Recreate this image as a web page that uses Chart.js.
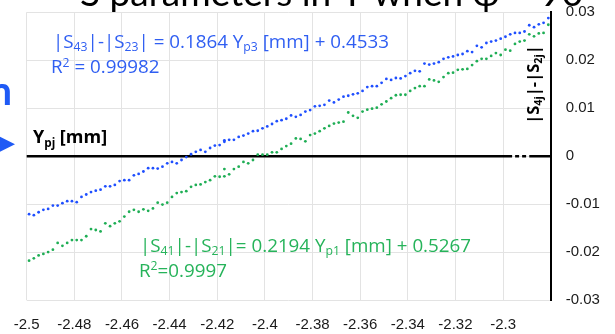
<!DOCTYPE html>
<html>
<head>
<meta charset="utf-8">
<script src="https://cdn.jsdelivr.net/npm/chart.js@4/dist/chart.umd.min.js"></script>
<style>
  html, body { margin: 0; padding: 0; background: #fff; }
  canvas { display: block; }
</style>
</head>
<body>
<canvas id="chart" width="615" height="334"></canvas>
<script>
// Probe position Y_pj [mm]
const ypPositions = [
  -2.499, -2.497, -2.495, -2.493, -2.491, -2.489, -2.487, -2.485, -2.483, -2.481,
  -2.479, -2.477, -2.475, -2.473, -2.471, -2.469, -2.467, -2.465, -2.463, -2.461,
  -2.459, -2.457, -2.455, -2.453, -2.451, -2.449, -2.447, -2.445, -2.443, -2.441,
  -2.439, -2.437, -2.435, -2.433, -2.431, -2.429, -2.427, -2.425, -2.423, -2.421,
  -2.419, -2.417, -2.417, -2.415, -2.413, -2.411, -2.409, -2.407, -2.405, -2.403,
  -2.401, -2.399, -2.397, -2.395, -2.393, -2.391, -2.389, -2.387, -2.385, -2.383,
  -2.381, -2.379, -2.377, -2.375, -2.373, -2.371, -2.369, -2.367, -2.365, -2.363,
  -2.361, -2.359, -2.357, -2.355, -2.353, -2.351, -2.349, -2.347, -2.345, -2.343,
  -2.341, -2.339, -2.337, -2.335, -2.333, -2.331, -2.329, -2.327, -2.325, -2.323,
  -2.321, -2.319, -2.317, -2.315, -2.313, -2.311, -2.309, -2.307, -2.305, -2.303,
  -2.301, -2.299, -2.297, -2.295, -2.293, -2.291, -2.289, -2.287, -2.285, -2.283,
  -2.281
];

// |S43| - |S23|
const s43MinusS23 = [
  -0.0121, -0.0123, -0.0117, -0.0112, -0.0110, -0.0103, -0.0103, -0.0098, -0.0094, -0.0094,
  -0.0096, -0.0085, -0.0080, -0.0075, -0.0072, -0.0070, -0.0063, -0.0063, -0.0060, -0.0052,
  -0.0050, -0.0050, -0.0040, -0.0037, -0.0032, -0.0025, -0.0025, -0.0026, -0.0022, -0.0015,
  -0.0012, -0.0015, -0.0008, -0.0002, 0.0004, 0.0009, 0.0013, 0.0009, 0.0017, 0.0022,
  0.0023, 0.0030, 0.0033, 0.0034, 0.0034, 0.0040, 0.0043, 0.0047, 0.0052, 0.0053,
  0.0058, 0.0062, 0.0067, 0.0073, 0.0075, 0.0078, 0.0085, 0.0082, 0.0086, 0.0093,
  0.0096, 0.0104, 0.0105, 0.0107, 0.0116, 0.0112, 0.0118, 0.0124, 0.0126, 0.0129,
  0.0131, 0.0136, 0.0144, 0.0146, 0.0146, 0.0153, 0.0161, 0.0159, 0.0163, 0.0162,
  0.0167, 0.0173, 0.0178, 0.0177, 0.0193, 0.0191, 0.0193, 0.0196, 0.0203, 0.0206,
  0.0208, 0.0211, 0.0213, 0.0219, 0.0217, 0.0230, 0.0227, 0.0236, 0.0239, 0.0241,
  0.0245, 0.0249, 0.0254, 0.0257, 0.0257, 0.0260, 0.0273, 0.0269, 0.0275, 0.0278,
  0.0288
];

// |S41| - |S21|
const s41MinusS21 = [
  -0.0218, -0.0213, -0.0207, -0.0204, -0.0200, -0.0195, -0.0181, -0.0187, -0.0181, -0.0175,
  -0.0175, -0.0175, -0.0167, -0.0152, -0.0154, -0.0157, -0.0140, -0.0146, -0.0140, -0.0136,
  -0.0126, -0.0116, -0.0112, -0.0116, -0.0111, -0.0114, -0.0109, -0.0097, -0.0101, -0.0097,
  -0.0085, -0.0077, -0.0075, -0.0073, -0.0064, -0.0060, -0.0059, -0.0054, -0.0050, -0.0042,
  -0.0043, -0.0042, -0.0027, -0.0038, -0.0027, -0.0022, -0.0012, -0.0015, -0.0008, 0.0003,
  0.0003, 0.0003, 0.0008, 0.0008, 0.0015, 0.0021, 0.0026, 0.0037, 0.0036, 0.0031,
  0.0044, 0.0047, 0.0052, 0.0058, 0.0063, 0.0068, 0.0070, 0.0072, 0.0091, 0.0084,
  0.0080, 0.0093, 0.0097, 0.0099, 0.0101, 0.0108, 0.0114, 0.0121, 0.0127, 0.0128,
  0.0128, 0.0136, 0.0142, 0.0146, 0.0146, 0.0160, 0.0158, 0.0155, 0.0165, 0.0173,
  0.0174, 0.0180, 0.0181, 0.0182, 0.0190, 0.0198, 0.0203, 0.0203, 0.0209, 0.0215,
  0.0211, 0.0222, 0.0220, 0.0234, 0.0239, 0.0241, 0.0254, 0.0250, 0.0256, 0.0257,
  0.0274
];

const xTickValues = [-2.5, -2.48, -2.46, -2.44, -2.42, -2.4, -2.38, -2.36, -2.34, -2.32, -2.3, -2.28];
const xTickLabels = ['-2.5', '-2.48', '-2.46', '-2.44', '-2.42', '-2.4', '-2.38', '-2.36', '-2.34', '-2.32', '-2.3', ''];
const yTickValues = [-0.03, -0.02, -0.01, 0, 0.01, 0.02, 0.03];
const yTickLabels = ['-0.03', '-0.02', '-0.01', '0', '0.01', '0.02', '0.03'];

const BLUE = '#1f4fff';
const GREEN = '#1fae55';
const BLUE_TEXT = '#2f5ef2';
const GREEN_TEXT = '#26b35a';
const TEXT_FONT = '"Open Sans"';
const TITLE_FONT = 'Lato';

function toPoints(xs, ys) {
  return xs.map((x, i) => ({ x: x, y: ys[i] }));
}

// Text made of pieces, some of them set as subscript or superscript.
function runsWidth(ctx, runs, size, weight, family) {
  const fam = family || TEXT_FONT;
  let w = 0;
  for (const r of runs) {
    const s = (r.sub || r.sup) ? size * 0.65 : size;
    ctx.font = `${weight} ${s}px ${fam}`;
    w += ctx.measureText(r.t).width;
  }
  return w;
}
function drawRuns(ctx, runs, x, y, size, weight, color, family) {
  const fam = family || TEXT_FONT;
  ctx.fillStyle = color;
  ctx.textBaseline = 'alphabetic';
  ctx.textAlign = 'left';
  for (const r of runs) {
    const s = (r.sub || r.sup) ? size * 0.65 : size;
    const dy = r.sub ? size * 0.2 : (r.sup ? -size * 0.36 : 0);
    ctx.font = `${weight} ${s}px ${fam}`;
    ctx.fillText(r.t, x, y + dy);
    x += ctx.measureText(r.t).width;
  }
}

// The y = 0 reference line: solid, with a short dashed stretch near the right axis.
const zeroLinePlugin = {
  id: 'zeroLine',
  beforeDatasetsDraw(chart) {
    const { ctx, chartArea, scales } = chart;
    const py = scales.y.getPixelForValue(0);
    const xBreak = scales.x.getPixelForValue(-2.2962);
    const xResume = scales.x.getPixelForValue(-2.2890);
    ctx.save();
    ctx.strokeStyle = '#000';
    ctx.lineWidth = 2.5;
    ctx.beginPath();
    ctx.moveTo(chartArea.left, py);
    ctx.lineTo(xBreak, py);
    ctx.moveTo(xResume, py);
    ctx.lineTo(chartArea.right, py);
    ctx.stroke();
    ctx.setLineDash([4, 3]);
    ctx.beginPath();
    ctx.moveTo(xBreak + 3, py);
    ctx.lineTo(xResume - 2, py);
    ctx.stroke();
    ctx.restore();
  }
};

// Headline, fit equations, axis captions and pointer.
const annotationPlugin = {
  id: 'annotations',
  afterDraw(chart) {
    const ctx = chart.ctx;
    ctx.save();

    // headline, mostly above the frame
    drawRuns(ctx, [{ t: 'S parameters in Y when φ = 90°' }], 80, 5.5, 37, 'normal', '#000', TITLE_FONT);

    // fit for the blue series
    drawRuns(ctx, [
      { t: '|S' }, { t: '43', sub: true }, { t: '|-|S' }, { t: '23', sub: true },
      { t: '| = 0.1864 Y' }, { t: 'p3', sub: true }, { t: ' [mm] + 0.4533' }
    ], 53, 47.7, 18.8, 'normal', BLUE_TEXT);
    drawRuns(ctx, [{ t: 'R' }, { t: '2', sup: true }, { t: ' = 0.99982' }], 51, 73.3, 18.8, 'normal', BLUE_TEXT);

    // fit for the green series
    drawRuns(ctx, [
      { t: '|S' }, { t: '41', sub: true }, { t: '|-|S' }, { t: '21', sub: true },
      { t: '|= 0.2194 Y' }, { t: 'p1', sub: true }, { t: ' [mm] + 0.5267' }
    ], 140, 251.7, 18.8, 'normal', GREEN_TEXT);
    drawRuns(ctx, [{ t: 'R' }, { t: '2', sup: true }, { t: '=0.9997' }], 139, 276.7, 18.8, 'normal', GREEN_TEXT);

    // horizontal axis caption
    drawRuns(ctx, [{ t: 'Y' }, { t: 'pj', sub: true }, { t: ' [mm]' }], 33, 143.3, 18, 'bold', '#000');

    // vertical axis caption, rotated and centred on its span
    const vRuns = [{ t: '|S' }, { t: '4j', sub: true }, { t: '|-|S' }, { t: '2j', sub: true }, { t: '|' }];
    const vSize = 16.5;
    const vw = runsWidth(ctx, vRuns, vSize, 'bold');
    ctx.save();
    ctx.translate(538.8, 84.5 + vw / 2);
    ctx.rotate(-Math.PI / 2);
    drawRuns(ctx, vRuns, 0, 0, vSize, 'bold', '#000');
    ctx.restore();

    // pointer at the left edge
    ctx.fillStyle = '#1f5af5';
    ctx.font = `bold 40px ${TITLE_FONT}`;
    ctx.textAlign = 'right';
    ctx.fillText('n', 12, 105);
    ctx.beginPath();
    ctx.moveTo(0, 136.7);
    ctx.lineTo(15, 144.2);
    ctx.lineTo(0, 151.7);
    ctx.closePath();
    ctx.fill();

    ctx.restore();
  }
};

new Chart(document.getElementById('chart'), {
  type: 'scatter',
  data: {
    datasets: [
      {
        label: '|S43|-|S23|',
        data: toPoints(ypPositions, s43MinusS23),
        backgroundColor: BLUE,
        borderColor: BLUE,
        pointRadius: 1.4,
        pointBorderWidth: 0,
        pointHoverRadius: 1.4
      },
      {
        label: '|S41|-|S21|',
        data: toPoints(ypPositions, s41MinusS21),
        backgroundColor: GREEN,
        borderColor: GREEN,
        pointRadius: 1.4,
        pointBorderWidth: 0,
        pointHoverRadius: 1.4
      }
    ]
  },
  options: {
    responsive: false,
    animation: false,
    devicePixelRatio: 1,
    layout: { padding: { left: 26.7, top: 12.3, right: 0, bottom: 0 } },
    plugins: {
      legend: { display: false },
      tooltip: { enabled: false }
    },
    scales: {
      x: {
        type: 'linear',
        min: -2.5,
        max: -2.28,
        afterBuildTicks(scale) { scale.ticks = xTickValues.map(v => ({ value: v })); },
        afterFit(scale) {
          scale.height = 34;
          scale.paddingLeft = 0;
          scale.paddingRight = 0;
        },
        ticks: {
          autoSkip: false,
          maxRotation: 0,
          padding: 16,
          color: '#1a1a1a',
          font: { family: 'Liberation Sans', size: 15 },
          callback: (v, i) => xTickLabels[i]
        },
        grid: { color: '#e3e3e3', lineWidth: 1, drawTicks: false },
        border: { display: false }
      },
      y: {
        position: 'right',
        min: -0.03,
        max: 0.03,
        afterBuildTicks(scale) { scale.ticks = yTickValues.map(v => ({ value: v })); },
        afterFit(scale) {
          scale.width = 64.3;
          scale.paddingTop = 0;
          scale.paddingBottom = 0;
        },
        ticks: {
          padding: 15,
          color: '#1a1a1a',
          font: { family: 'Liberation Sans', size: 15 },
          callback: (v, i) => yTickLabels[i]
        },
        grid: { color: '#e3e3e3', lineWidth: 1, drawTicks: false },
        border: { display: true, color: '#000', width: 2 }
      }
    }
  },
  plugins: [zeroLinePlugin, annotationPlugin]
});
</script>
</body>
</html>
